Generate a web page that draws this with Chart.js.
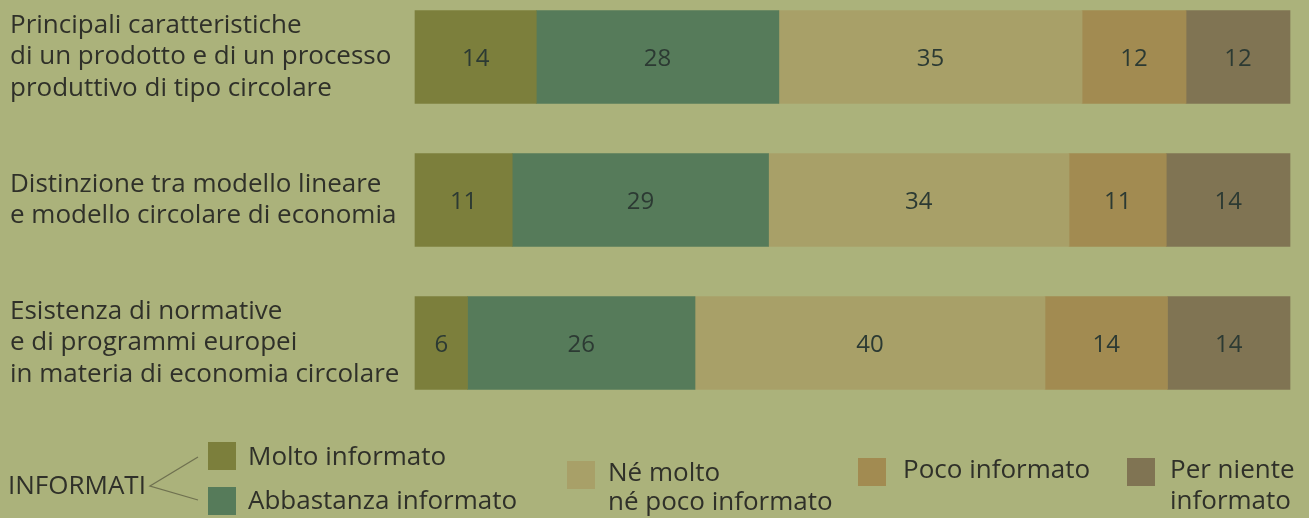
<!DOCTYPE html>
<html>
<head>
<meta charset="utf-8">
<script src="https://cdn.jsdelivr.net/npm/chart.js@4/dist/chart.umd.min.js"></script>
<style>
  html, body { margin: 0; padding: 0; background: #abb27b; }
  #wrap { width: 1309px; height: 518px; }
</style>
</head>
<body>
<div id="wrap"><canvas id="chart" width="1309" height="518"></canvas></div>
<script>
// row labels
const categories = [
  ["Principali caratteristiche", "di un prodotto e di un processo", "produttivo di tipo circolare"],
  ["Distinzione tra modello lineare", "e modello circolare di economia"],
  ["Esistenza di normative", "e di programmi europei", "in materia di economia circolare"]
];

// values
const molto = [14, 11, 6];
const abbastanza = [28, 29, 26];
const neMolto = [35, 34, 40];
const poco = [12, 11, 14];
const perNiente = [12, 14, 14];

const seriesNames = ["Molto informato", "Abbastanza informato", "Né molto né poco informato", "Poco informato", "Per niente informato"];
const colors = ["#7c7f3c", "#567b5a", "#a8a068", "#a28b51", "#807453"];

const allSeries = [molto, abbastanza, neMolto, poco, perNiente];
// each row fills the full width, so scale to row total
const totals = categories.map((c, i) => allSeries.reduce((s, arr) => s + arr[i], 0));

const textColor = "#2f3029";
const fontFam = "'Open Sans', 'DejaVu Sans', sans-serif";

const datasets = allSeries.map((arr, k) => ({
  label: seriesNames[k],
  raw: arr,
  data: arr.map((v, i) => v / totals[i] * 100),
  backgroundColor: colors[k],
  borderWidth: 0,
  barThickness: 93,
  clip: false
}));

const valueLabels = {
  id: "valueLabels",
  afterDatasetsDraw(chart) {
    const ctx = chart.ctx;
    ctx.save();
    ctx.font = "24px " + fontFam;
    ctx.fillStyle = "#2c3a33";
    ctx.textAlign = "center";
    ctx.textBaseline = "middle";
    chart.data.datasets.forEach((ds, k) => {
      chart.getDatasetMeta(k).data.forEach((bar, i) => {
        const p = bar.getProps(["x", "y", "base"], true);
        ctx.fillText(ds.raw[i], (p.x + p.base) / 2, p.y + 2);
      });
    });
    ctx.restore();
  }
};

const legendDraw = {
  id: "legendDraw",
  afterDraw(chart) {
    const ctx = chart.ctx;
    ctx.save();
    ctx.font = "26px " + fontFam;
    ctx.fillStyle = textColor;
    ctx.textBaseline = "middle";
    ctx.textAlign = "left";
    ctx.fillText("INFORMATI", 8, 487);

    // bracket
    ctx.strokeStyle = "#6f7150";
    ctx.lineWidth = 1.3;
    ctx.beginPath();
    ctx.moveTo(198, 457);
    ctx.lineTo(150, 486);
    ctx.lineTo(198, 500);
    ctx.stroke();

    const sq = (x, y, c) => { ctx.fillStyle = c; ctx.fillRect(x, y, 28, 28); };
    sq(208, 442, colors[0]);
    sq(208, 487, colors[1]);
    sq(567, 461, colors[2]);
    sq(858, 458, colors[3]);
    sq(1127, 458, colors[4]);

    ctx.fillStyle = textColor;
    ctx.fillText("Molto informato", 248, 458);
    ctx.fillText("Abbastanza informato", 248, 502);
    ctx.fillText("Né molto", 608, 474);
    ctx.fillText("né poco informato", 608, 503);
    ctx.fillText("Poco informato", 903, 471);
    ctx.fillText("Per niente", 1170, 471);
    ctx.fillText("informato", 1170, 502);
    ctx.restore();
  }
};

new Chart(document.getElementById("chart"), {
  type: "bar",
  data: { labels: categories, datasets: datasets },
  options: {
    indexAxis: "y",
    responsive: false,
    animation: false,
    layout: { padding: { left: 10, right: 19, top: 57, bottom: 175 } },
    plugins: { legend: { display: false }, tooltip: { enabled: false } },
    scales: {
      x: { stacked: true, min: 0, max: 100, display: false },
      y: {
        stacked: true,
        offset: false,
        grid: { display: false },
        border: { display: false },
        afterFit: (scale) => { scale.width = 405; },
        ticks: {
          crossAlign: "far",
          padding: 0,
          color: textColor,
          font: { family: fontFam, size: 26, lineHeight: 1.2 }
        }
      }
    }
  },
  plugins: [valueLabels, legendDraw]
});
</script>
</body>
</html>
